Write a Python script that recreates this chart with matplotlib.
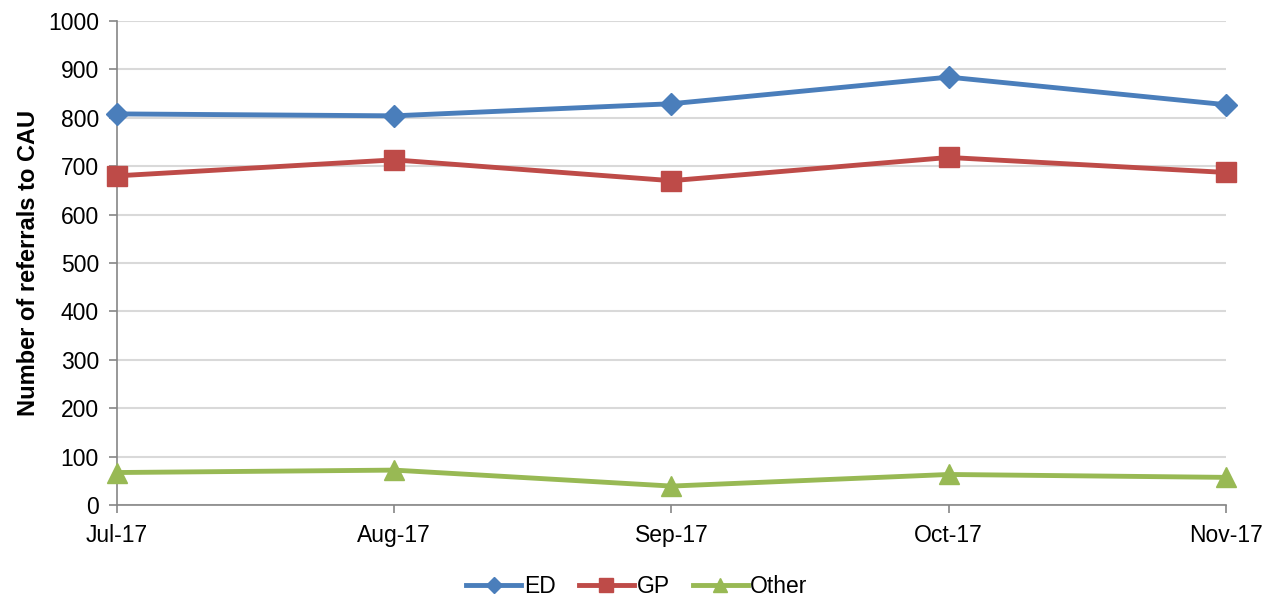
import matplotlib
matplotlib.use("Agg")
import matplotlib.pyplot as plt

months = ["Jul-17", "Aug-17", "Sep-17", "Oct-17", "Nov-17"]
ed = [808, 804, 829, 884, 827]
gp = [680, 713, 670, 718, 687]
other = [67, 72, 39, 63, 57]

plt.rcParams['font.family'] = ['Liberation Sans', 'DejaVu Sans']

fig = plt.figure(figsize=(12.77, 5.99), dpi=100)
ax = fig.add_axes([0.0916, 0.157, 0.8684, 0.808])

x = list(range(len(months)))
ax.plot(x, ed, color="#4a7ebb", lw=3.5, marker="D", ms=11, label="ED", clip_on=False, zorder=3)
ax.plot(x, gp, color="#be4b48", lw=3.5, marker="s", ms=14, label="GP", clip_on=False, zorder=3)
ax.plot(x, other, color="#98b954", lw=3.5, marker="^", ms=14, label="Other", clip_on=False, zorder=3)

ax.set_xlim(0, 4)
ax.set_ylim(0, 1000)
ax.set_yticks(range(0, 1001, 100))
ax.set_xticks(x)
ax.set_xticklabels(months)
ax.yaxis.grid(True, color="#d9d9d9", lw=1.5)
ax.set_axisbelow(True)
for s in ["top", "right"]:
    ax.spines[s].set_visible(False)
for s in ["left", "bottom"]:
    ax.spines[s].set_color("#868686")
    ax.spines[s].set_linewidth(1.2)
ax.tick_params(axis="both", colors="#868686", labelcolor="black", labelsize=16.5, length=6, width=1.2)
ax.tick_params(axis="y", pad=7)
ax.tick_params(axis="x", pad=8)
ax.set_ylabel("Number of referrals to CAU", fontsize=17, fontweight="bold", labelpad=6)

ax.legend(loc="center", bbox_to_anchor=(0.469, -0.168), ncol=3, frameon=False,
          fontsize=16.5, handlelength=2.4, handletextpad=0.12, columnspacing=1.0,
          markerscale=0.75)

fig.savefig("out.png", dpi=100)
